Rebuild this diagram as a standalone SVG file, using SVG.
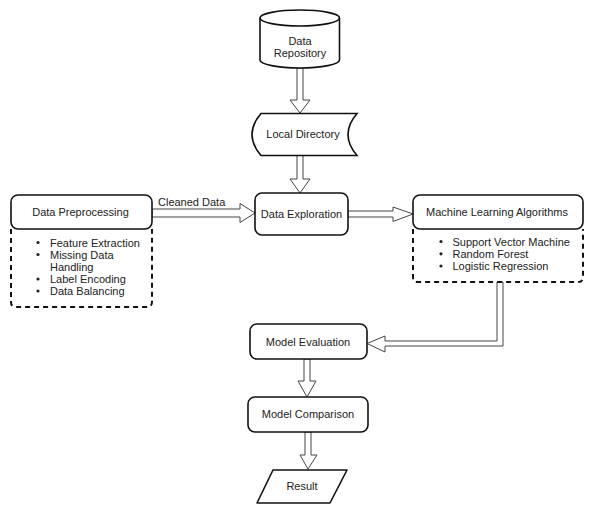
<svg xmlns="http://www.w3.org/2000/svg" width="592" height="513" viewBox="0 0 592 513">
<style>
text{font-family:"Liberation Sans",Arial,sans-serif;font-size:11px;fill:#222}
.c{text-anchor:middle}
.box{fill:#fff;stroke:#111;stroke-width:1.6}
.dash{fill:none;stroke:#111;stroke-width:2;stroke-dasharray:5 4}
.arr{fill:#fff;stroke:#444;stroke-width:1;stroke-linejoin:miter}
.dot{fill:#222}
</style>
<rect width="592" height="513" fill="#fff"/>
<g id="connectors">
<polygon class="arr" points="297,68 303,68 303,100 310,100 300,113 290,100 297,100"/>
<polygon class="arr" points="297,155 303,155 303,179 310,179 300,193 290,179 297,179"/>
<polygon class="arr" points="152,209 240,209 240,203.5 255,213 240,222.5 240,217 152,217"/>
<text x="158" y="206">Cleaned Data</text>
<polygon class="arr" points="348,211 393,211 393,207 413,214 393,221.5 393,217 348,217"/>
<polygon class="arr" points="497,282 497,341 385,341 385,336 367,343.5 385,352 385,346 503,346 503,282"/>
<polygon class="arr" points="304,359 310,359 310,381 316,381 307,397 298,381 304,381"/>
<polygon class="arr" points="305,432 311,432 311,455 317,455 308,469 300,455 305,455"/>
</g>
<g id="data-repository">
<path class="box" d="M260,18 A39.75,8 0 0 1 339.5,18 L339.5,60 A39.75,8 0 0 1 260,60 Z"/>
<path fill="none" stroke="#111" stroke-width="1.6" d="M260,18 A39.75,8 0 0 0 339.5,18"/>
<text class="c" x="300" y="45">Data</text>
<text class="c" x="300" y="57">Repository</text>
</g>
<g id="local-directory">
<path class="box" d="M261,113.5 L357,113.5 Q339,134.5 357,155.5 L261,155.5 Q243,134.5 261,113.5 Z"/>
<text class="c" x="303" y="138">Local Directory</text>
</g>
<g id="data-exploration">
<rect class="box" x="255" y="193" width="93" height="42" rx="7"/>
<text class="c" x="301.5" y="218">Data Exploration</text>
</g>
<g id="data-preprocessing">
<path class="dash" d="M11,229 L11,302 Q11,307 16,307 L147,307 Q152,307 152,302 L152,229"/>
<rect class="box" x="11" y="195" width="141" height="34" rx="7"/>
<text class="c" x="80.5" y="216">Data Preprocessing</text>
<circle class="dot" cx="38" cy="242.5" r="1.6"/>
<text x="50" y="246.5">Feature Extraction</text>
<circle class="dot" cx="38" cy="254.5" r="1.6"/>
<text x="50" y="258.5">Missing Data</text>
<text x="50" y="270.5">Handling</text>
<circle class="dot" cx="38" cy="279" r="1.6"/>
<text x="50" y="283">Label Encoding</text>
<circle class="dot" cx="38" cy="291" r="1.6"/>
<text x="50" y="295">Data Balancing</text>
</g>
<g id="machine-learning">
<path class="dash" d="M413,229 L413,277 Q413,282 418,282 L578,282 Q583,282 583,277 L583,229"/>
<rect class="box" x="413" y="195" width="170" height="34" rx="7"/>
<text class="c" x="497" y="216">Machine Learning Algorithms</text>
<circle class="dot" cx="441" cy="241.5" r="1.6"/>
<text x="452.5" y="245.5">Support Vector Machine</text>
<circle class="dot" cx="441" cy="253.8" r="1.6"/>
<text x="452.5" y="257.8">Random Forest</text>
<circle class="dot" cx="441" cy="266" r="1.6"/>
<text x="452.5" y="270">Logistic Regression</text>
</g>
<g id="model-evaluation">
<rect class="box" x="250" y="324" width="117" height="35" rx="7"/>
<text class="c" x="308" y="345.5">Model Evaluation</text>
</g>
<g id="model-comparison">
<rect class="box" x="248" y="397" width="120" height="35" rx="7"/>
<text class="c" x="308" y="418">Model Comparison</text>
</g>
<g id="result">
<path class="box" stroke-linejoin="round" d="M273,470 L347,470 L330,503 L257,503 Z"/>
<text class="c" x="302" y="490">Result</text>
</g>
</svg>
